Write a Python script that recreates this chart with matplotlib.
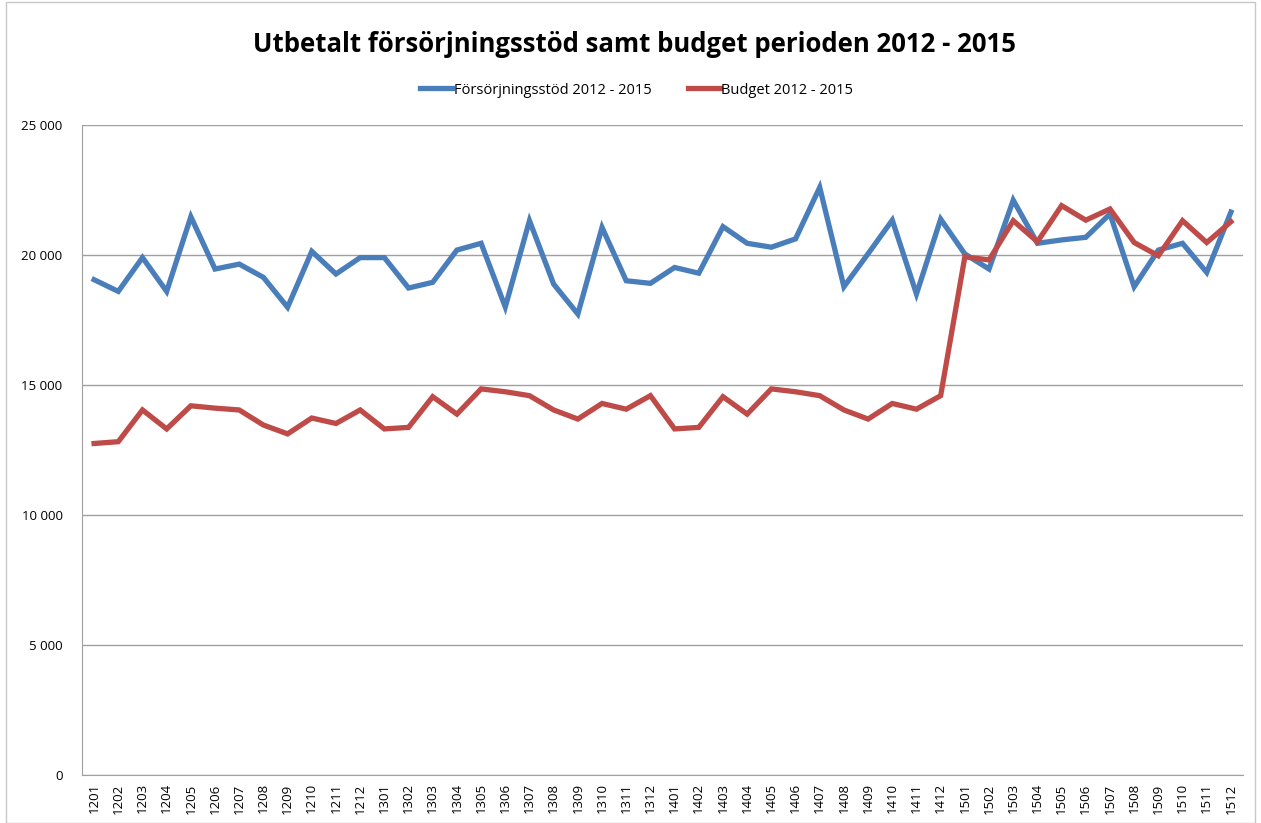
import numpy as np
import matplotlib.pyplot as plt
from matplotlib.ticker import FuncFormatter
from matplotlib.patches import Rectangle

# months 1201 .. 1512
months = [f"{y}{m:02d}" for y in range(12, 16) for m in range(1, 13)]

# Försörjningsstöd
stod = [19050, 18600, 19900, 18600, 21470, 19460, 19650, 19140, 17990, 20140,
        19270, 19900, 19900, 18730, 18950, 20190, 20450, 18000, 21320, 18880,
        17730, 21060, 19010, 18910, 19520, 19300, 21090, 20450, 20300, 20620,
        22600, 18780, 20050, 21340, 18500, 21380, 20040, 19460, 22110, 20450,
        20580, 20680, 21580, 18780, 20190, 20450, 19330, 21650]

# Budget
budget = [12750, 12820, 14040, 13310, 14200, 14110, 14040, 13460, 13120, 13730,
          13520, 14040, 13310, 13370, 14550, 13880, 14850, 14740, 14590, 14040,
          13690, 14290, 14070, 14590, 13310, 13370, 14550, 13880, 14850, 14740,
          14590, 14040, 13690, 14290, 14070, 14590, 19930, 19810, 21320, 20510,
          21900, 21340, 21770, 20480, 19970, 21320, 20480, 21280]

plt.rcParams['font.family'] = ['Open Sans', 'DejaVu Sans']

fig = plt.figure(figsize=(12.61, 8.23), dpi=100)
ax = fig.add_axes([82 / 1261, 1 - 775 / 823, (1243 - 82) / 1261, 650 / 823])

x = np.arange(len(months))
ax.plot(x, stod, color='#4A7EBB', lw=3.8, solid_joinstyle='miter',
        label='Försörjningsstöd 2012 - 2015')
ax.plot(x, budget, color='#BE4B48', lw=3.8, solid_joinstyle='miter',
        label='Budget 2012 - 2015')

ax.set_xlim(-0.5, len(months) - 0.5)
ax.set_ylim(0, 25000)
ax.set_yticks(np.arange(0, 25001, 5000))
ax.yaxis.set_major_formatter(FuncFormatter(lambda v, p: f"{int(v):,}".replace(",", " ")))
ax.set_xticks(x)
ax.set_xticklabels(months, rotation=90, fontsize=9.5)
ax.tick_params(axis='y', labelsize=9.5, length=0, pad=14)
ax.tick_params(axis='x', length=0, pad=6)
ax.grid(axis='y', color='#a0a0a0', lw=1)
ax.set_axisbelow(True)
for s in ['top', 'right']:
    ax.spines[s].set_visible(False)
ax.spines['left'].set_color('#a0a0a0')
ax.spines['bottom'].set_color('#a0a0a0')

fig.text(0.503, 1 - 45 / 823, 'Utbetalt försörjningsstöd samt budget perioden 2012 - 2015',
         ha='center', va='center', fontsize=18.5, fontweight='bold')
fig.legend(loc='center', bbox_to_anchor=(0.505, 1 - 90 / 823), ncol=2, frameon=False,
           fontsize=10.5, handlelength=2.2, handletextpad=0.1, columnspacing=2.5)

fig.patches.append(Rectangle((6 / 1261, 0), 1 - 12 / 1261, 1 - 2 / 823, transform=fig.transFigure,
                             fill=False, edgecolor='#c8c8c8', lw=1))

fig.savefig('out.png', dpi=100)
